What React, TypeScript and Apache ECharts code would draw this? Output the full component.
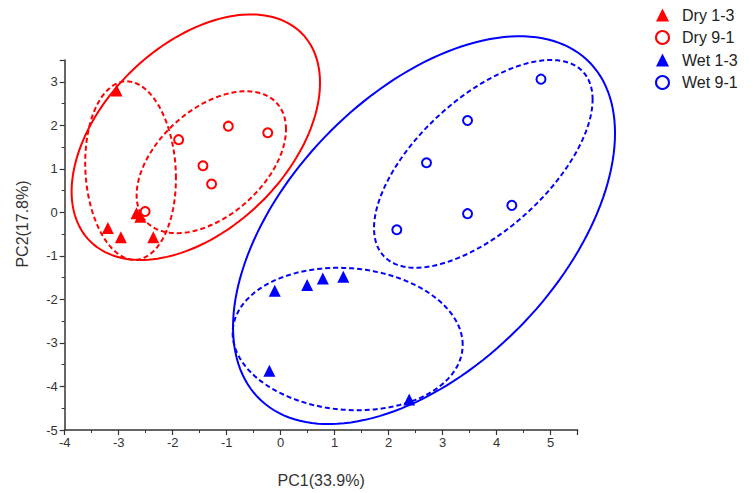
import React, { useEffect, useRef } from "react";
import * as echarts from "echarts";

// ---- data ----
const seriesNames = ["Dry 1-3", "Dry 9-1", "Wet 1-3", "Wet 9-1"];

const dry13: number[][] = [
  [-3.04, 2.8],
  [-2.67, -0.02],
  [-2.6, -0.1],
  [-3.2, -0.36],
  [-2.96, -0.57],
  [-2.36, -0.57],
];
const dry91: number[][] = [
  [-2.51, 0.02],
  [-1.89, 1.67],
  [-1.44, 1.07],
  [-1.28, 0.65],
  [-0.97, 1.98],
  [-0.24, 1.83],
];
const wet13: number[][] = [
  [-0.11, -1.8],
  [0.49, -1.67],
  [0.78, -1.52],
  [1.16, -1.48],
  [-0.21, -3.64],
  [2.38, -4.3],
];
const wet91: number[][] = [
  [4.82, 3.06],
  [3.46, 2.11],
  [2.7, 1.14],
  [3.46, -0.03],
  [4.28, 0.16],
  [2.15, -0.4],
];

// confidence ellipses: [centerX, centerY, halfWidth, halfHeight, yOffsetOfRightmostPoint]
const ellipseDryAll = [-1.572, 1.727, 2.3, 2.82, 1.25];
const ellipseDry13 = [-2.78, 0.96, 0.84, 2.05, -0.18];
const ellipseDry91 = [-1.285, 1.152, 1.383, 1.63, 0.757];
const ellipseWetAll = [2.654, -0.409, 3.537, 4.455, 2.227];
const ellipseWet13 = [1.24, -2.91, 2.13, 1.636, -0.136];
const ellipseWet91 = [3.752, 1.114, 2.024, 2.386, 1.477];

const xTicks = { min: -4, max: 5.5, interval: 1 };
const yTicks = { min: -5, max: 3.5, interval: 1 };

const RED = "#ff0000";
const BLUE = "#0000ff";
const FONT = "'Liberation Sans', Arial, sans-serif";

function ellipseSeries(params: number[], color: string, dashed: boolean) {
  return {
    type: "custom",
    silent: true,
    clip: false,
    z: 1,
    encode: { x: 0, y: 1 },
    data: [params],
    renderItem: (_p: any, api: any) => {
      const cx = api.value(0);
      const cy = api.value(1);
      const w = api.value(2);
      const h = api.value(3);
      const dy = api.value(4);
      const k = Math.sqrt(Math.max(h * h - dy * dy, 0));
      const pts: number[][] = [];
      const n = 160;
      for (let i = 0; i <= n; i++) {
        const t = (i / n) * Math.PI * 2;
        pts.push(
          api.coord([cx + w * Math.cos(t), cy + dy * Math.cos(t) + k * Math.sin(t)])
        );
      }
      return {
        type: "polyline",
        shape: { points: pts },
        style: {
          fill: "none",
          stroke: color,
          lineWidth: 2,
          lineDash: dashed ? [5, 3] : null,
        },
      };
    },
  };
}

function scatterSeries(name: string, data: number[][], color: string, hollow: boolean) {
  return {
    name,
    type: "scatter",
    z: 3,
    data,
    symbol: hollow ? "emptyCircle" : "triangle",
    symbolSize: hollow ? 9 : 12,
    itemStyle: hollow
      ? { color, borderColor: color, borderWidth: 2.5, opacity: 1 }
      : { color, opacity: 1 },
  };
}

export default function App() {
  const ref = useRef<HTMLDivElement>(null);
  useEffect(() => {
    document.body.style.margin = "0";
    if (!ref.current) return;
    const chart = echarts.init(ref.current, null, { renderer: "svg" });
    const axisCommon = {
      axisLine: { show: true, onZero: false, lineStyle: { color: "#333", width: 1.5 } },
      axisTick: { show: true, inside: false, length: 5, lineStyle: { color: "#333", width: 1.2 } },
      minorTick: { show: true, splitNumber: 2, length: 3, lineStyle: { color: "#333", width: 1 } },
      splitLine: { show: false },
      minorSplitLine: { show: false },
      axisLabel: {
        color: "#333",
        fontSize: 13,
        fontFamily: FONT,
        formatter: (v: number) => (Number.isInteger(v) ? String(v) : ""),
      },
      nameLocation: "middle",
      nameTextStyle: { color: "#333", fontSize: 16, fontFamily: FONT },
    };
    chart.setOption({
      animation: false,
      backgroundColor: "#ffffff",
      grid: { left: 64.7, right: 175.3, top: 60, bottom: 59 },
      xAxis: {
        type: "value",
        ...axisCommon,
        min: xTicks.min,
        max: xTicks.max,
        interval: xTicks.interval,
        name: "PC1(33.9%)",
        nameGap: 42,
        axisLabel: { ...axisCommon.axisLabel, margin: 6 },
      },
      yAxis: {
        type: "value",
        ...axisCommon,
        min: yTicks.min,
        max: yTicks.max,
        interval: yTicks.interval,
        name: "PC2(17.8%)",
        nameGap: 34,
        nameTextStyle: { ...axisCommon.nameTextStyle, padding: [0, 0, 0, 42] },
        axisLabel: { ...axisCommon.axisLabel, margin: 7 },
      },
      legend: {
        orient: "vertical",
        left: 655,
        top: 7,
        padding: 0,
        itemGap: 6.5,
        itemWidth: 13,
        itemHeight: 13,
        data: seriesNames,
        textStyle: { fontSize: 16, color: "#222", fontFamily: FONT, padding: [0, 0, 0, 8] },
      },
      series: [
        ellipseSeries(ellipseDryAll, RED, false),
        ellipseSeries(ellipseDry13, RED, true),
        ellipseSeries(ellipseDry91, RED, true),
        ellipseSeries(ellipseWetAll, BLUE, false),
        ellipseSeries(ellipseWet13, BLUE, true),
        ellipseSeries(ellipseWet91, BLUE, true),
        scatterSeries(seriesNames[0], dry13, RED, false),
        scatterSeries(seriesNames[1], dry91, RED, true),
        scatterSeries(seriesNames[2], wet13, BLUE, false),
        scatterSeries(seriesNames[3], wet91, BLUE, true),
      ],
    });
    return () => chart.dispose();
  }, []);
  return (
    <div
      ref={ref}
      style={{ position: "fixed", left: 0, top: 0, width: 753, height: 493, background: "#fff" }}
    />
  );
}
